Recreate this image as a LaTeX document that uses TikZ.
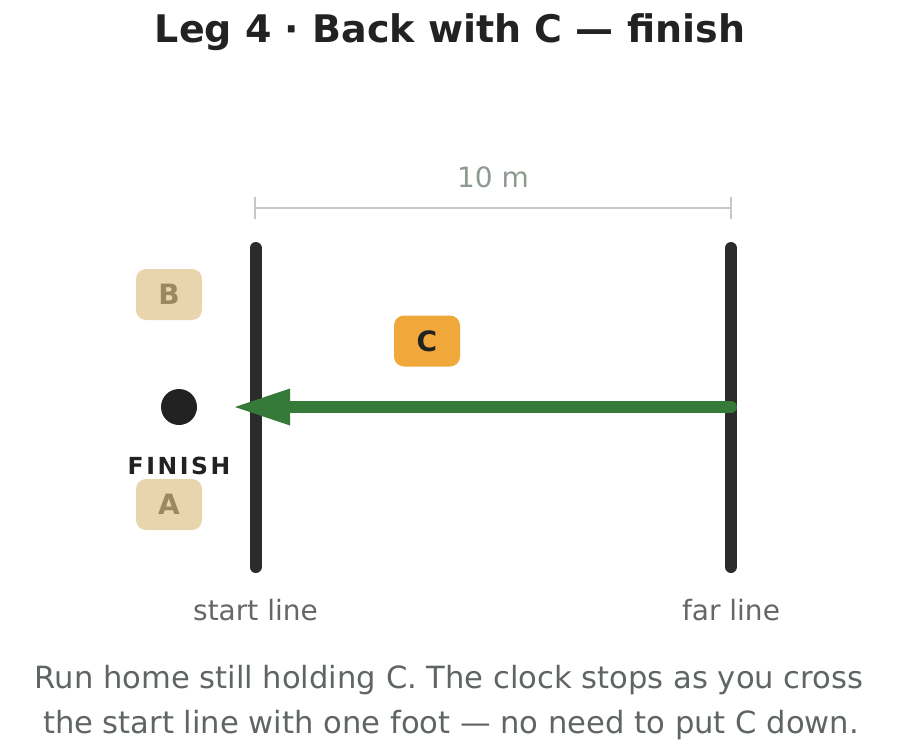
\documentclass[tikz,border=0pt]{standalone}
\usepackage{fontspec}
\setmainfont{DejaVu Sans}
\newfontfamily\spacedfont[LetterSpace=11]{DejaVu Sans}
\definecolor{inkdark}{HTML}{222222}
\definecolor{linedark}{HTML}{2B2B2B}
\definecolor{arrowgreen}{HTML}{357A38}
\definecolor{cfill}{HTML}{F0A83A}
\definecolor{abfill}{HTML}{E8D5AD}
\definecolor{abtext}{HTML}{9B8762}
\definecolor{dimgray}{HTML}{C8C8C8}
\definecolor{dimtext}{HTML}{8E9A90}
\definecolor{labeltext}{HTML}{666666}
\definecolor{captext}{HTML}{5F6661}
\tikzset{
  fieldline/.style={line width=12pt, line cap=round, draw=linedark},
  runshaft/.style={line width=12pt, line cap=round, draw=arrowgreen},
  runhead/.style={fill=arrowgreen},
  dimline/.style={line width=2pt, draw=dimgray},
  cone/.style={rounded corners=10pt, minimum width=66pt, minimum height=51pt, inner sep=0pt, font=\fontsize{28}{32}\selectfont\bfseries},
  parked/.style={cone, fill=abfill, text=abtext},
  carried/.style={cone, fill=cfill, text=inkdark},
  linelabel/.style={anchor=base, text=labeltext, font=\fontsize{28}{32}\selectfont},
  caption/.style={anchor=base, text=captext, font=\fontsize{30.6}{34}\selectfont},
}
\begin{document}
\begin{tikzpicture}[x=1pt,y=-1pt]
\useasboundingbox (0,0) rectangle (900,755);
% title
\node[anchor=base, text=inkdark, font=\fontsize{38}{42}\selectfont\bfseries] (title) at (450,42) {Leg 4 · Back with C — finish};
% dimension
\coordinate (dimL) at (255,208);
\coordinate (dimR) at (731,208);
\draw[dimline] (dimL) -- (dimR);
\draw[dimline] ([yshift=-11pt]dimL) -- ([yshift=11pt]dimL);
\draw[dimline] ([yshift=-11pt]dimR) -- ([yshift=11pt]dimR);
\node[anchor=base, text=dimtext, font=\fontsize{28}{30}\selectfont] (dist) at (493,187) {10 m};
% lines
\coordinate (startTop) at (255.5,248);
\coordinate (startBot) at (255.5,567);
\coordinate (farTop) at (731,248);
\coordinate (farBot) at (731,567);
\draw[fieldline] (startTop) -- (startBot);
\draw[fieldline] (farTop) -- (farBot);
\node[linelabel] (startlbl) at (255.5,620) {start line};
\node[linelabel] (farlbl) at (731,620) {far line};
% cones
\node[parked] (B) at (169,294.5) {B};
\node[parked] (A) at (169,504.5) {A};
\node[carried] (C) at (427,341) {C};
% finish
\coordinate (finish) at (179,407);
\fill[inkdark] (finish) circle[radius=18pt];
\node[anchor=base, text=inkdark, font=\fontsize{23.5}{26}\selectfont\spacedfont\bfseries] (finlbl) at (179,474) {FINISH};
% arrow
\coordinate (runStart) at (731,407);
\coordinate (runBase) at (290,407);
\coordinate (runEnd) at (235,407);
\draw[runshaft] (runStart) -- (runBase);
\fill[runhead] (runEnd) -- ([yshift=-18.5pt]runBase) -- ([yshift=18.5pt]runBase) -- cycle;
% caption
\node[caption] (cap1) at (449,688) {Run home still holding C. The clock stops as you cross};
\node[caption] (cap2) at (451,733) {the start line with one foot — no need to put C down.};
\end{tikzpicture}
\end{document}
